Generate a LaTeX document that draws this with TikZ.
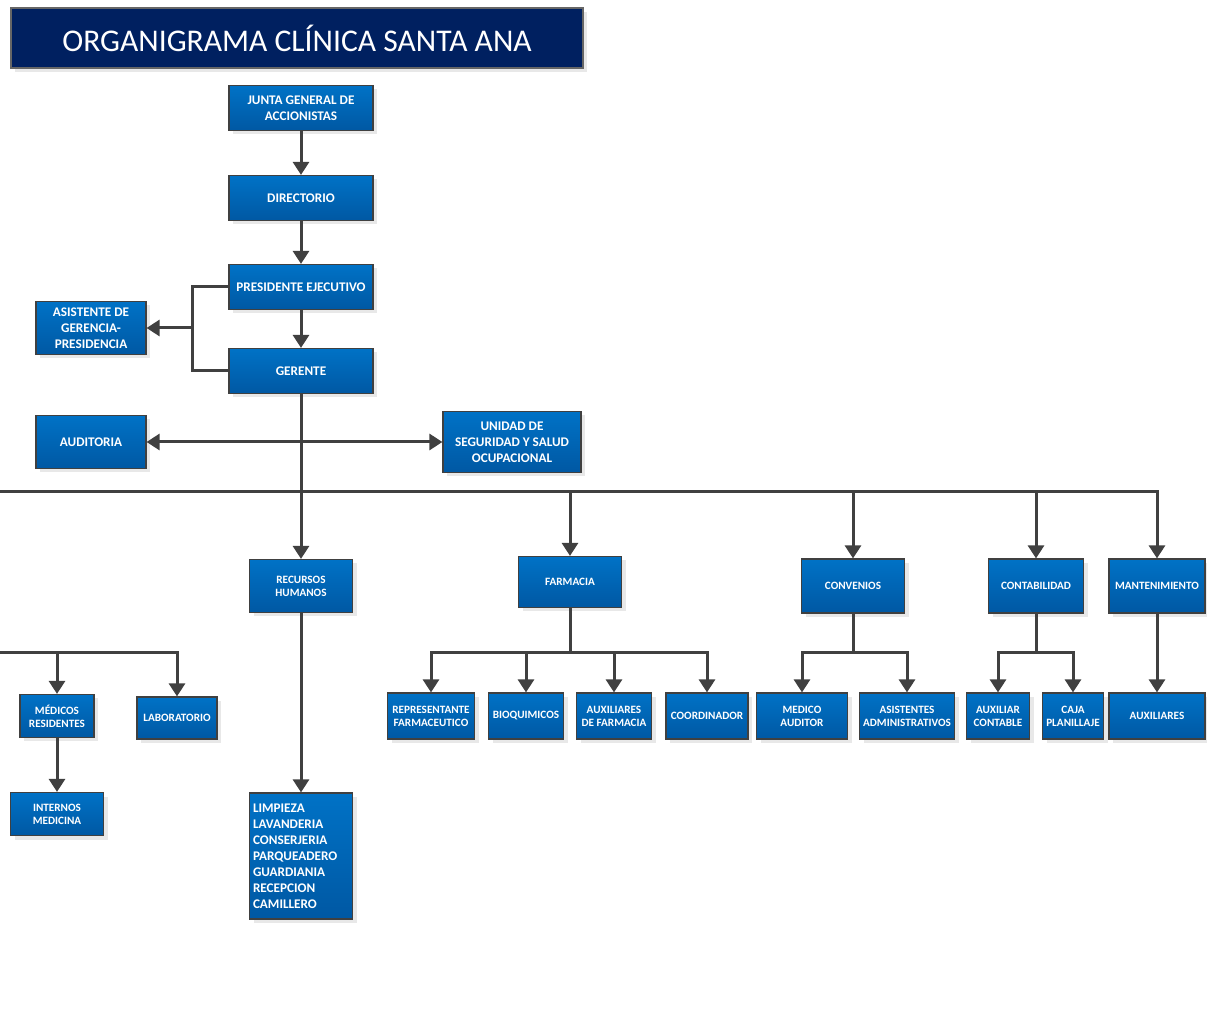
\documentclass[tikz,border=0pt]{standalone}
\usepackage{fontspec}
\setmainfont{Carlito}
\definecolor{CLBLUE}{HTML}{0072C6}
\definecolor{CLBLUED}{HTML}{0058A3}
\definecolor{CLNAVY}{HTML}{002060}
\definecolor{CLLINE}{HTML}{404040}
\usepackage{tikz}
\usetikzlibrary{calc,positioning,arrows.meta,shadows}

\begin{document}
\begin{tikzpicture}[x=0.5pt, y=-0.5pt,
  ubox/.style={draw=CLLINE, line width=0.6pt, top color=CLBLUE, bottom color=CLBLUED,
    rectangle, text=white, align=center, inner sep=1pt,
    drop shadow={shadow xshift=2pt, shadow yshift=-2pt, fill=black!18},
    font=\bfseries\fontsize{6.6}{8}\selectfont},
  topbox/.style={ubox, minimum width=72pt, minimum height=22.5pt},
  sidebox/.style={ubox, minimum width=55pt, minimum height=26.5pt},
  deptbox/.style={ubox, minimum width=51.5pt, minimum height=26.5pt,
    font=\bfseries\fontsize{5.6}{6.5}\selectfont},
  leafbox/.style={ubox, minimum height=23pt,
    font=\bfseries\fontsize{5.6}{6.5}\selectfont},
  titlebox/.style={draw=black!60, line width=0.6pt, fill=CLNAVY, text=white,
    minimum width=286pt, minimum height=30pt,
    drop shadow={shadow xshift=2pt, shadow yshift=-2pt, fill=black!18},
    font=\fontsize{15.8}{18}\selectfont},
  lnk/.style={line width=1.5pt, CLLINE},
  arr/.style={lnk, -{Triangle[length=6.5pt, width=8pt]}},
  arrs/.style={lnk, {Triangle[length=6.5pt, width=8pt]}-{Triangle[length=6.5pt, width=8pt]}}
]
\useasboundingbox (0,0) rectangle (1207,1027);

\node[titlebox] (title) at (297,38) {ORGANIGRAMA CLÍNICA SANTA ANA};

% direccion
\node[topbox] (junta) at (301,108) {JUNTA GENERAL DE\\ACCIONISTAS};
\node[topbox] (dir)   at (301,198) {DIRECTORIO};
\node[topbox] (pres)  at (301,287) {PRESIDENTE EJECUTIVO};
\node[topbox] (ger)   at (301,371) {GERENTE};
\node[sidebox] (asis) at (91,328) {ASISTENTE DE\\GERENCIA-\\PRESIDENCIA};
\node[sidebox] (aud)  at (91,442) {AUDITORIA};
\node[sidebox, minimum width=69pt, minimum height=30.5pt] (sso) at (512,442)
  {UNIDAD DE\\SEGURIDAD Y SALUD\\OCUPACIONAL};

% departamentos
\node[deptbox] (rrhh) at (301,586) {RECURSOS\\HUMANOS};
\node[deptbox, minimum height=25.5pt] (farm) at (570,582) {FARMACIA};
\node[deptbox, minimum height=27pt] (conv) at (853,586) {CONVENIOS};
\node[deptbox, minimum width=47.5pt, minimum height=27pt] (cont) at (1036,586) {CONTABILIDAD};
\node[deptbox, minimum width=48pt, minimum height=27pt] (mant) at (1157,586) {MANTENIMIENTO};

% nivel inferior
\node[leafbox, minimum width=37pt, minimum height=21.5pt] (med) at (57,716) {MÉDICOS\\RESIDENTES};
\node[leafbox, minimum width=40pt, minimum height=21pt] (lab) at (177,718) {LABORATORIO};
\node[leafbox, minimum width=46.5pt, minimum height=21.5pt] (int) at (57,814) {INTERNOS\\MEDICINA};
\node[ubox, minimum width=51.5pt, minimum height=63pt, text width=48pt, align=left,
  inner sep=0.8pt] (limp) at (301,856)
  {LIMPIEZA\\LAVANDERIA\\CONSERJERIA\\PARQUEADERO\\GUARDIANIA\\RECEPCION\\CAMILLERO};
\node[leafbox, minimum width=43.5pt] (repf)  at (431,716) {REPRESENTANTE\\FARMACEUTICO};
\node[leafbox, minimum width=37.5pt] (bioq)  at (526,716) {BIOQUIMICOS};
\node[leafbox, minimum width=37.5pt] (auxf)  at (614,716) {AUXILIARES\\DE FARMACIA};
\node[leafbox, minimum width=41pt]   (coord) at (707,716) {COORDINADOR};
\node[leafbox, minimum width=45.5pt] (meda)  at (802,716) {MEDICO\\AUDITOR};
\node[leafbox, minimum width=47.5pt] (asad)  at (907,716) {ASISTENTES\\ADMINISTRATIVOS};
\node[leafbox, minimum width=31.5pt] (auxc)  at (998,716) {AUXILIAR\\CONTABLE};
\node[leafbox, minimum width=30.5pt] (caja)  at (1073,716) {CAJA\\PLANILLAJE};
\node[leafbox, minimum width=48pt]   (auxi)  at (1157,716) {AUXILIARES};

% enlaces
\coordinate (brk)  at (192,328);
\coordinate (busL) at (0,492);
\coordinate (lbus) at (0,653);
\coordinate (fbus) at (570,653);
\coordinate (cbus) at (853,653);
\coordinate (kbus) at (1036,653);

\draw[arr] (junta) -- (dir);
\draw[arr] (dir) -- (pres);
\draw[arr] (pres) -- (ger);
\draw[lnk] (pres.west) -| (brk) |- (ger.west);
\draw[arr] (brk) -- (asis);
\draw[arrs] (aud) -- (sso);
\draw[arr] (ger) -- (rrhh);
\draw[arr] (busL) -| (mant);
\foreach \n in {farm,conv,cont} \draw[arr] (busL -| \n) -- (\n);

\draw[arr] (lbus) -| (lab);
\draw[arr] (lbus -| med) -- (med);
\draw[arr] (med) -- (int);
\draw[arr] (rrhh) -- (limp);
\draw[lnk] (farm) -- (fbus);
\foreach \n in {repf,bioq,auxf,coord} \draw[arr] (fbus) -| (\n);
\draw[lnk] (conv) -- (cbus);
\foreach \n in {meda,asad} \draw[arr] (cbus) -| (\n);
\draw[lnk] (cont) -- (kbus);
\foreach \n in {auxc,caja} \draw[arr] (kbus) -| (\n);
\draw[arr] (mant) -- (auxi);
\end{tikzpicture}
\end{document}
